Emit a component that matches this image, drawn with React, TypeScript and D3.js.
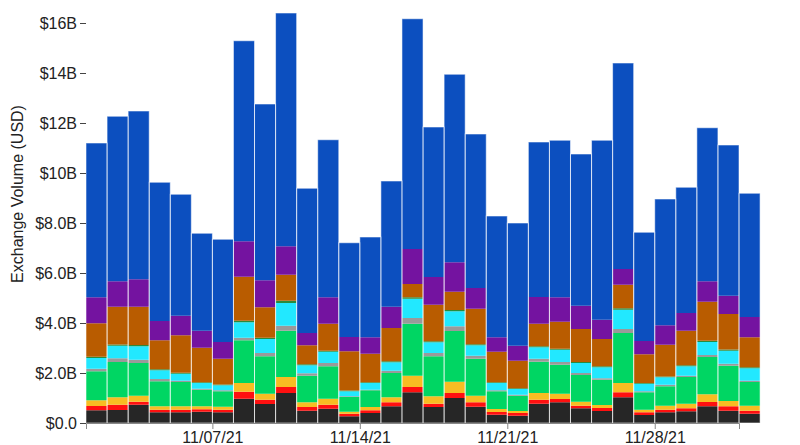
import React, { useEffect, useRef } from "react";
import * as d3 from "d3";

const dates = [
  "2021-11-01","2021-11-02","2021-11-03","2021-11-04","2021-11-05","2021-11-06","2021-11-07","2021-11-08",
  "2021-11-09","2021-11-10","2021-11-11","2021-11-12","2021-11-13","2021-11-14","2021-11-15","2021-11-16",
  "2021-11-17","2021-11-18","2021-11-19","2021-11-20","2021-11-21","2021-11-22","2021-11-23","2021-11-24",
  "2021-11-25","2021-11-26","2021-11-27","2021-11-28","2021-11-29","2021-11-30","2021-12-01","2021-12-02",
];

// values in billions USD, bottom to top
const sBlack = [0.51,0.52,0.73,0.43,0.43,0.45,0.43,0.97,0.76,1.20,0.49,0.57,0.27,0.40,0.67,1.23,0.64,1.00,0.65,0.33,0.29,0.77,0.83,0.59,0.48,1.03,0.32,0.43,0.47,0.67,0.49,0.37];
const sRed = [0.17,0.21,0.12,0.10,0.10,0.10,0.10,0.28,0.17,0.24,0.15,0.16,0.10,0.11,0.16,0.21,0.13,0.20,0.18,0.11,0.11,0.16,0.13,0.10,0.12,0.20,0.11,0.10,0.12,0.17,0.18,0.12];
const sYellow = [0.23,0.30,0.24,0.14,0.14,0.12,0.12,0.35,0.24,0.40,0.19,0.24,0.08,0.13,0.20,0.45,0.30,0.45,0.26,0.12,0.08,0.27,0.21,0.16,0.12,0.37,0.10,0.16,0.18,0.31,0.21,0.20];
const sGreen = [1.16,1.41,1.31,1.00,0.97,0.66,0.62,1.71,1.50,1.85,1.06,1.30,0.59,0.67,0.97,2.08,1.60,2.03,1.48,0.71,0.61,1.25,1.16,1.07,1.01,2.00,0.70,0.78,1.07,1.49,1.41,0.95];
const sGray = [0.10,0.15,0.13,0.09,0.05,0.04,0.04,0.10,0.13,0.20,0.10,0.13,0.03,0.02,0.09,0.23,0.13,0.19,0.12,0.04,0.04,0.12,0.11,0.08,0.06,0.16,0.04,0.06,0.05,0.08,0.08,0.05];
const sCyan = [0.43,0.50,0.54,0.35,0.28,0.23,0.20,0.62,0.56,0.91,0.32,0.45,0.20,0.27,0.34,0.77,0.43,0.60,0.42,0.29,0.23,0.46,0.49,0.40,0.44,0.77,0.30,0.30,0.38,0.52,0.52,0.50];
const sDarkGreen = [0.05,0.05,0.05,0.04,0.04,0.03,0.03,0.06,0.05,0.09,0.04,0.04,0.03,0.03,0.04,0.06,0.04,0.05,0.04,0.03,0.03,0.04,0.04,0.04,0.04,0.06,0.03,0.03,0.04,0.05,0.05,0.04];
const sOrange = [1.34,1.51,1.53,1.16,1.50,1.38,1.03,1.76,1.22,1.04,0.76,1.08,1.57,1.14,1.33,0.53,1.46,0.73,1.42,1.22,1.10,0.90,1.08,1.32,1.09,0.94,1.15,1.27,1.38,1.56,1.42,1.20];
const sPurple = [1.04,1.02,1.10,0.77,0.78,0.68,0.67,1.42,1.08,1.14,0.49,1.06,0.57,0.66,0.85,1.40,1.11,1.18,0.83,0.58,0.60,1.07,0.98,0.93,0.77,0.63,0.53,0.78,0.71,0.82,0.73,0.81];
const sBlue = [6.17,6.60,6.73,5.55,4.86,3.90,4.11,8.02,7.05,9.33,5.79,6.30,3.77,4.01,5.03,9.21,6.00,7.52,6.16,4.85,4.91,6.20,6.28,6.07,7.18,8.24,4.35,5.05,5.03,6.14,6.03,4.95];

const seriesKeys = ["black","red","yellow","green","gray","cyan","darkgreen","orange","purple","blue"];
const seriesValues = [sBlack,sRed,sYellow,sGreen,sGray,sCyan,sDarkGreen,sOrange,sPurple,sBlue];
const seriesColors = ["#262626","#ff1010","#f8bd22","#00d663","#9a9a9a","#22e8ff","#2a8a3c","#b95c00","#7413a0","#0c4fbf"];

const yTickValues = [0,2,4,6,8,10,12,14,16];
const yTickLabels = ["$0.0","$2.0B","$4.0B","$6.0B","$8.0B","$10B","$12B","$14B","$16B"];
const xTickDates = ["2021-11-07","2021-11-14","2021-11-21","2021-11-28"];
const xTickLabels = ["11/07/21","11/14/21","11/21/21","11/28/21"];
const yAxisTitle = "Exchange Volume (USD)";

const W = 800, H = 445;
const FONT = "'Liberation Sans', Arial, Helvetica, sans-serif";

export default function App() {
  const ref = useRef<SVGSVGElement>(null);
  useEffect(() => {
    const svg = d3.select(ref.current);
    svg.selectAll("*").remove();
    const parse = d3.utcParse("%Y-%m-%d");
    const ds = dates.map((d) => parse(d) as Date);
    const x = d3.scaleUtc().domain([parse("2021-11-01") as Date, parse("2021-12-02") as Date]).range([86, 739]);
    const y = d3.scaleLinear().domain([0, 16]).range([423, 23]);

    const rows = ds.map((d, i) => {
      const r: any = { date: d };
      seriesKeys.forEach((k, j) => (r[k] = seriesValues[j][i]));
      return r;
    });
    const stack = d3.stack().keys(seriesKeys)(rows as any);

    const g = svg.append("g");
    stack.forEach((layer, li) => {
      g.append("g")
        .attr("fill", seriesColors[li])
        .selectAll("rect")
        .data(layer)
        .join("rect")
        .attr("x", (d: any) => x(d.data.date))
        .attr("width", (d: any) => x(d3.utcDay.offset(d.data.date, 1)) - x(d.data.date))
        .attr("y", (d: any) => y(d[1]))
        .attr("height", (d: any) => y(d[0]) - y(d[1]));
    });
    const top = stack[stack.length - 1];
    g.append("g")
      .selectAll("rect")
      .data(top)
      .join("rect")
      .attr("x", (d: any) => x(d.data.date))
      .attr("width", (d: any) => x(d3.utcDay.offset(d.data.date, 1)) - x(d.data.date))
      .attr("y", (d: any) => y(d[1]))
      .attr("height", (d: any) => y(0) - y(d[1]))
      .attr("fill", "none")
      .attr("stroke", "#ffffff")
      .attr("stroke-opacity", 0.55)
      .attr("stroke-width", 1);

    // x axis
    const xa = svg.append("g").attr("transform", `translate(0,423)`)
      .call(
        d3.axisBottom(x)
          .tickValues(xTickDates.map((s) => parse(s) as Date))
          .tickFormat((_d, i) => xTickLabels[i])
      );
    xa.select(".domain").attr("stroke", "#888");
    xa.selectAll(".tick line").attr("stroke", "#888");
    xa.selectAll("text").attr("font-size", 16).attr("font-family", FONT).attr("fill", "#222");

    // y axis
    const ya = svg.append("g").attr("transform", `translate(86,0)`)
      .call(
        d3.axisLeft(y)
          .tickValues(yTickValues)
          .tickFormat((_d, i) => yTickLabels[i])
      );
    ya.select(".domain").remove();
    ya.selectAll(".tick line").attr("stroke", "#444");
    ya.selectAll("text").attr("font-size", 16).attr("font-family", FONT).attr("fill", "#222");

    svg.append("text")
      .attr("transform", `translate(23,194) rotate(-90)`)
      .attr("text-anchor", "middle")
      .attr("font-family", FONT)
      .attr("font-size", 16)
      .attr("fill", "#222")
      .text(yAxisTitle);
  }, []);
  return (
    <svg ref={ref} width={W} height={H} style={{ position: "absolute", left: 0, top: 0, background: "#fff" }} />
  );
}
